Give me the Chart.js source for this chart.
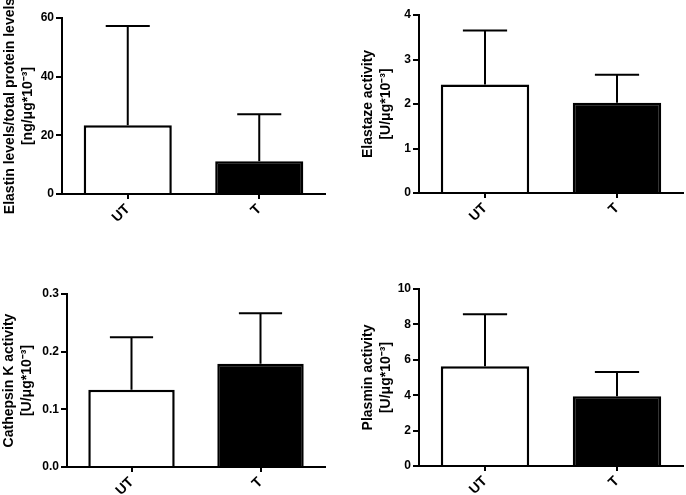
<!DOCTYPE html>
<html>
<head>
<meta charset="utf-8">
<script src="https://cdn.jsdelivr.net/npm/chart.js@4"></script>
<style>
  html, body { margin: 0; padding: 0; background: #fff; }
  body { position: relative; width: 686px; height: 495px; overflow: hidden; }
  canvas { position: absolute; }
</style>
</head>
<body>
<canvas id="elastin" width="340" height="248" style="left:0;top:0"></canvas>
<canvas id="elastaze" width="346" height="248" style="left:340px;top:0"></canvas>
<canvas id="cathepsin" width="340" height="247" style="left:0;top:248px"></canvas>
<canvas id="plasmin" width="346" height="247" style="left:340px;top:248px"></canvas>
<script>
const groups = ['UT', 'T'];

const elastinMean = [23.4, 11.2];
const elastinErr = [33.9, 16.0];
const elastinTicks = [0, 20, 40, 60];

const elastazeMean = [2.44, 2.03];
const elastazeErr = [1.21, 0.63];
const elastazeTicks = [0, 1, 2, 3, 4];

const cathepsinMean = [0.134, 0.179];
const cathepsinErr = [0.091, 0.0875];
const cathepsinTicks = ['0.0', '0.1', '0.2', '0.3'];

const plasminMean = [5.63, 3.94];
const plasminErr = [2.94, 1.37];
const plasminTicks = [0, 2, 4, 6, 8, 10];

Chart.defaults.font.family = "'Liberation Sans', Arial, sans-serif";
Chart.defaults.color = '#000';

// upper error bars, drawn from the bar top through the y scale
const errorBars = {
  id: 'errorBars',
  afterDatasetsDraw(chart) {
    const ctx = chart.ctx;
    const ds = chart.data.datasets[0];
    const yScale = chart.scales.y;
    ctx.save();
    ctx.strokeStyle = '#000';
    ctx.lineWidth = 2;
    chart.getDatasetMeta(0).data.forEach((bar, i) => {
      const top = yScale.getPixelForValue(ds.data[i] + ds.errors[i]);
      const half = bar.width / 4;
      ctx.beginPath();
      ctx.moveTo(bar.x, bar.y);
      ctx.lineTo(bar.x, top);
      ctx.moveTo(bar.x - half, top);
      ctx.lineTo(bar.x + half, top);
      ctx.stroke();
    });
    ctx.restore();
  }
};

function makeChart(id, means, errs, ticks, title, box) {
  const tickVals = ticks.map(Number);
  new Chart(document.getElementById(id).getContext('2d'), {
    type: 'bar',
    data: {
      labels: groups,
      datasets: [{
        data: means,
        errors: errs,
        backgroundColor: ['#fff', '#000'],
        borderColor: '#000',
        borderWidth: 2.5,
        borderSkipped: 'start',
        barPercentage: 0.67,
        categoryPercentage: 1
      }]
    },
    options: {
      responsive: false,
      animation: false,
      layout: { padding: { left: box.left, top: box.top, right: box.right, bottom: 0 } },
      plugins: { legend: { display: false }, tooltip: { enabled: false } },
      scales: {
        x: {
          afterFit: (s) => { s.height = box.xh; },
          grid: { offset: false, drawOnChartArea: false, tickLength: 5, color: '#000', lineWidth: 2 },
          border: { color: '#000', width: 2 },
          ticks: { minRotation: 45, maxRotation: 45, padding: 2, font: { size: 14, weight: 'bold' } }
        },
        y: {
          min: tickVals[0],
          max: tickVals[tickVals.length - 1],
          afterFit: (s) => { s.width = box.yw; },
          afterBuildTicks: (s) => { s.ticks = tickVals.map(v => ({ value: v })); },
          grid: { drawOnChartArea: false, tickLength: 6, color: '#000', lineWidth: 2 },
          border: { color: '#000', width: 2 },
          ticks: {
            padding: 2,
            font: { size: 12, weight: 'bold' },
            callback: (v, i) => String(ticks[i])
          },
          title: {
            display: true,
            text: title,
            padding: { top: box.tp, bottom: 0 },
            font: { size: 14, weight: 'bold', lineHeight: 1.3 }
          }
        }
      }
    },
    plugins: [errorBars]
  });
}

makeChart('elastin', elastinMean, elastinErr, elastinTicks,
  ['Elastin levels/total protein levels', '[ng/\u03bcg*10\u207b\u00b3]'],
  { left: 0, top: 18, right: 15, yw: 62, xh: 54, tp: 1 });

makeChart('elastaze', elastazeMean, elastazeErr, elastazeTicks,
  ['Elastaze activity', '[U/\u03bcg*10\u207b\u00b3]'],
  { left: 19, top: 15, right: 3, yw: 60, xh: 55, tp: 0 });

makeChart('cathepsin', cathepsinMean, cathepsinErr, cathepsinTicks,
  ['Cathepsin K activity', '[U/\u03bcg*10\u207b\u00b3]'],
  { left: 0, top: 46, right: 15, yw: 67, xh: 28, tp: 0 });

makeChart('plasmin', plasminMean, plasminErr, plasminTicks,
  ['Plasmin activity', '[U/\u03bcg*10\u207b\u00b3]'],
  { left: 19, top: 41, right: 3, yw: 60, xh: 29, tp: 0 });
</script>
</body>
</html>
